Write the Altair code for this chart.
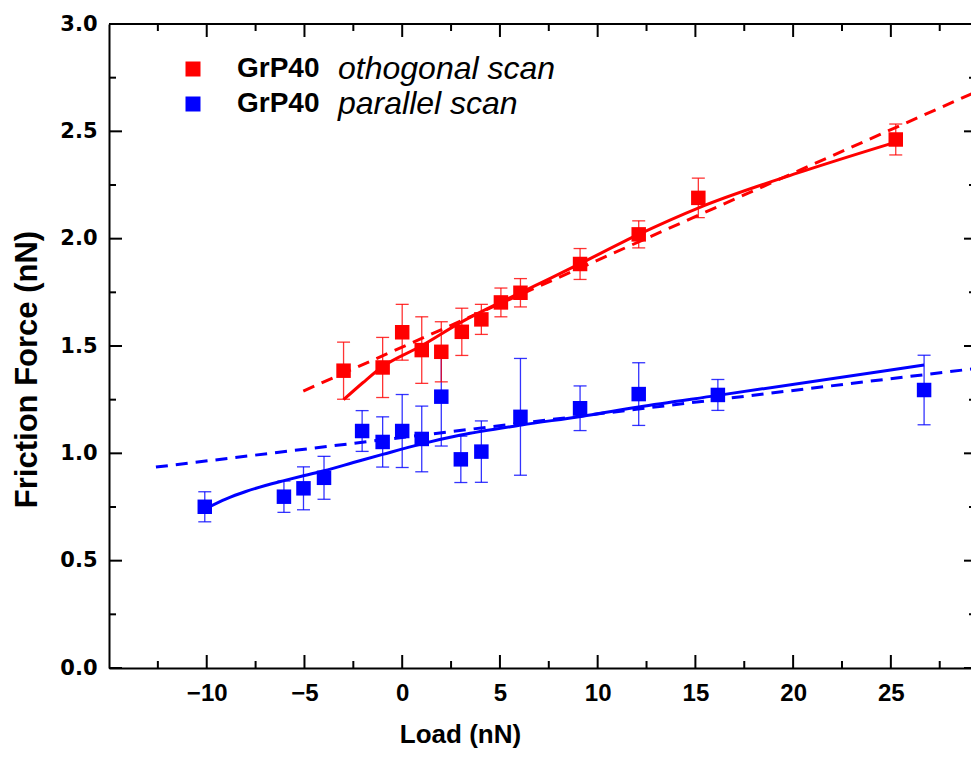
import altair as alt
import pandas as pd

# ---------------- data ----------------
ortho_load = [-3.0, -1.0, 0.0, 1.0, 2.0, 3.05, 4.05, 5.05, 6.05, 9.1, 12.1, 15.15, 25.25]
ortho_fric = [1.385, 1.40, 1.564, 1.481, 1.473, 1.566, 1.624, 1.703, 1.748, 1.882, 2.02, 2.19, 2.462]
ortho_err = [0.133, 0.14, 0.13, 0.155, 0.14, 0.11, 0.07, 0.067, 0.066, 0.072, 0.063, 0.092, 0.072]

par_load = [-10.1, -6.05, -5.05, -4.0, -2.05, -1.0, 0.0, 1.0, 2.0, 3.0, 4.05, 6.05, 9.1, 12.1, 16.15, 26.7]
par_fric = [0.751, 0.798, 0.837, 0.886, 1.104, 1.053, 1.104, 1.067, 1.264, 0.972, 1.008, 1.17, 1.21, 1.276, 1.272, 1.295]
par_err = [0.07, 0.073, 0.1, 0.1, 0.095, 0.117, 0.17, 0.153, 0.23, 0.108, 0.143, 0.272, 0.104, 0.146, 0.072, 0.162]

# fitted curves (solid) and linear fits (dashed)
ortho_fit_load = [-3.0, -2.0, -1.07, 0.97, 3.0, 5.06, 7.6, 9.15, 12.1, 15.2, 20.2, 25.25]
ortho_fit_fric = [1.25, 1.33, 1.40, 1.50, 1.61, 1.705, 1.816, 1.886, 2.02, 2.145, 2.305, 2.45]
ortho_lin_load = [-5.06, 29.5]
ortho_lin_fric = [1.29, 2.69]

par_fit_load = [-10.0, -9.0, -8.0, -7.0, -6.0, -5.0, -4.0, -2.5, -1.0, 1.0, 3.0, 6.1, 9.15, 12.1, 16.15, 26.7]
par_fit_fric = [0.745, 0.788, 0.822, 0.850, 0.874, 0.897, 0.919, 0.957, 0.995, 1.044, 1.085, 1.132, 1.172, 1.216, 1.27, 1.411]
par_lin_load = [-12.6, 29.5]
par_lin_fric = [0.936, 1.397]

legend_bold = ["GrP40", "GrP40"]
legend_italic = ["othogonal scan", "parallel scan"]

x_major = [-10, -5, 0, 5, 10, 15, 20, 25]
x_minor = [-12.5, -7.5, -2.5, 2.5, 7.5, 12.5, 17.5, 22.5, 27.5]
y_major = [0.0, 0.5, 1.0, 1.5, 2.0, 2.5, 3.0]
y_minor = [0.25, 0.75, 1.25, 1.75, 2.25, 2.75]

RED = "#FF0000"
BLUE = "#0000FF"
FONT = "Liberation Sans"
W, H = 862, 644

xs = alt.Scale(domain=[-15, 29.1], nice=False, zero=False)
ys = alt.Scale(domain=[0, 3], nice=False, zero=False)

xaxis = alt.Axis(values=x_major, ticks=False, grid=False, domainColor="black", domainWidth=2,
                 labelFont=FONT, labelFontSize=24,
                 labelFontWeight="bold", labelColor="black",
                 labelPadding=13, labelFlush=False, title="Load (nN)", titleFont=FONT,
                 titleFontSize=26, titleFontWeight="bold", titleColor="black",
                 titleX=351, titleY=66, titleBaseline="middle", titleAnchor="middle")
yaxis = alt.Axis(values=y_major, format=".1f", ticks=False, grid=False, domainColor="black",
                 domainWidth=2, labelFont="DejaVu Sans", labelFontSize=21, labelFontWeight="bold",
                 labelColor="black", labelPadding=12, labelFlush=False,
                 title="Friction Force (nN)", titleFont=FONT, titleFontSize=31,
                 titleFontWeight="bold", titleColor="black", titleX=-82, titleY=345,
                 titleBaseline="middle", titleAlign="center", titleAngle=270)

X = alt.X("load:Q", scale=xs, axis=xaxis)
Y = alt.Y("fric:Q", scale=ys, axis=yaxis)


def points_df(load, fric, err):
    return pd.DataFrame({"load": load, "fric": fric,
                         "lo": [f - e for f, e in zip(fric, err)],
                         "hi": [f + e for f, e in zip(fric, err)]})


def series(load, fric, err, color):
    df = points_df(load, fric, err)
    base = alt.Chart(df)
    bars = base.mark_rule(color=color, strokeWidth=1.3, opacity=0.8).encode(
        x=X, y=alt.Y("lo:Q", scale=ys, axis=yaxis), y2="hi:Q")
    cap_lo = base.mark_tick(color=color, orient="horizontal", size=13, thickness=1.3,
                            opacity=0.8).encode(x=X, y=alt.Y("lo:Q", scale=ys, axis=yaxis))
    cap_hi = base.mark_tick(color=color, orient="horizontal", size=13, thickness=1.3,
                            opacity=0.8).encode(x=X, y=alt.Y("hi:Q", scale=ys, axis=yaxis))
    pts = base.mark_square(color=color, size=210, opacity=1, filled=True).encode(x=X, y=Y)
    return bars, cap_lo, cap_hi, pts


def line(load, fric, color, dashed):
    df = pd.DataFrame({"load": load, "fric": fric})
    kw = dict(color=color, strokeWidth=3, clip=True, interpolate="monotone")
    if dashed:
        kw["strokeDash"] = [12, 8]
    return alt.Chart(df).mark_line(**kw).encode(x=X, y=Y, order="load:Q")


layers = []
layers.append(line(ortho_lin_load, ortho_lin_fric, RED, True))
layers.append(line(par_lin_load, par_lin_fric, BLUE, True))
layers.append(line(ortho_fit_load, ortho_fit_fric, RED, False))
layers.append(line(par_fit_load, par_fit_fric, BLUE, False))
layers.extend(series(par_load, par_fric, par_err, BLUE))
layers.extend(series(ortho_load, ortho_fric, ortho_err, RED))

# inward ticks on all four sides
xmaj = pd.DataFrame({"load": x_major})
xmin = pd.DataFrame({"load": x_minor})
ymaj = pd.DataFrame({"fric": y_major})
ymin = pd.DataFrame({"fric": y_minor})
tick = dict(color="black", strokeWidth=2)
layers.append(alt.Chart(xmaj).mark_rule(**tick).encode(x=X, y=alt.value(H), y2=alt.value(H - 13)))
layers.append(alt.Chart(xmin).mark_rule(**tick).encode(x=X, y=alt.value(H), y2=alt.value(H - 7)))
layers.append(alt.Chart(xmaj).mark_rule(**tick).encode(x=X, y=alt.value(0), y2=alt.value(13)))
layers.append(alt.Chart(xmin).mark_rule(**tick).encode(x=X, y=alt.value(0), y2=alt.value(7)))
layers.append(alt.Chart(ymaj).mark_rule(**tick).encode(y=Y, x=alt.value(0), x2=alt.value(13)))
layers.append(alt.Chart(ymin).mark_rule(**tick).encode(y=Y, x=alt.value(0), x2=alt.value(7)))
layers.append(alt.Chart(ymaj).mark_rule(**tick).encode(y=Y, x=alt.value(W - 7), x2=alt.value(W)))
layers.append(alt.Chart(ymin).mark_rule(**tick).encode(y=Y, x=alt.value(W - 2), x2=alt.value(W)))
# top frame line
layers.append(alt.Chart(xmaj).mark_rule(color="black", strokeWidth=2).encode(
    x=alt.value(0), x2=alt.value(W), y=alt.value(0)))

# legend
leg = pd.DataFrame({"b": legend_bold, "i": legend_italic})
rows = [(0, RED, 45), (1, BLUE, 80)]
for idx, col, yy in rows:
    sub = alt.Chart(leg.iloc[[idx]])
    layers.append(sub.mark_square(size=225, color=col, opacity=1).encode(
        x=alt.value(84), y=alt.value(yy)))
    layers.append(sub.mark_text(font=FONT, fontSize=28, fontWeight="bold", align="left",
                                baseline="middle", color="black").encode(
        x=alt.value(128), y=alt.value(yy), text="b:N"))
    layers.append(sub.mark_text(font=FONT, fontSize=32, fontStyle="italic", align="left",
                                baseline="middle", color="black").encode(
        x=alt.value(229), y=alt.value(yy), text="i:N"))

chart = alt.layer(*layers).properties(
    width=W, height=H, autosize="none",
    padding={"left": 101, "top": 16, "right": 0, "bottom": 84},
).configure_view(stroke=None).configure(background="white")

chart.save("out.html", embed_options={"renderer": "svg", "actions": False})
